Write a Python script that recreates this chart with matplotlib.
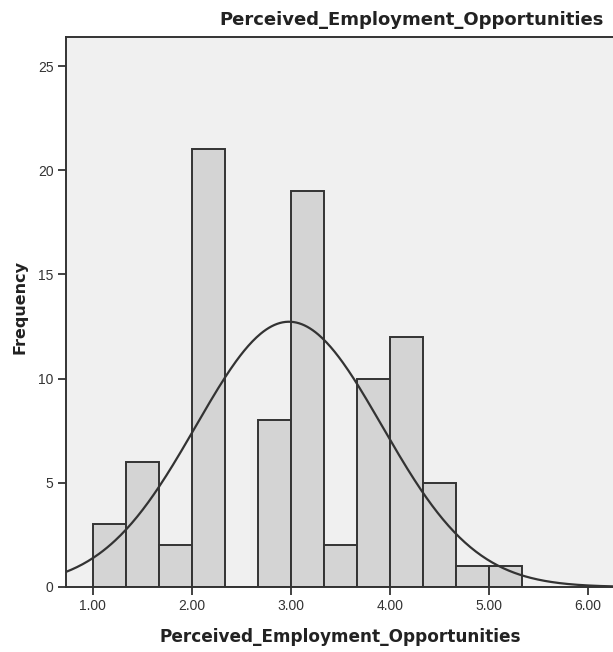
import numpy as np
import matplotlib
matplotlib.use('Agg')
import matplotlib.pyplot as plt

plt.rcParams['font.family'] = ['Liberation Sans', 'DejaVu Sans']

# Histogram bins (width 1/3) and frequencies
bin_edges = [1.0, 4/3, 5/3, 2.0, 7/3, 8/3, 3.0, 10/3, 11/3, 4.0, 13/3, 14/3, 5.0, 16/3]
counts = [3, 6, 2, 21, 0, 8, 19, 2, 10, 12, 5, 1, 1]

# Normal curve parameters
mean = 2.98
std_dev = 0.94
n_total = sum(counts)
bin_width = 1/3

x_ticks = [1, 2, 3, 4, 5, 6]
x_tick_labels = ['1.00', '2.00', '3.00', '4.00', '5.00', '6.00']
y_ticks = [0, 5, 10, 15, 20, 25]

var_name = 'Perceived_Employment_Opportunities'

fig = plt.figure(figsize=(6.13, 6.52), dpi=100)
ax = fig.add_axes([0.1077, 0.0997, 0.8923, 0.8436])
ax.set_facecolor('#f0f0f0')

lefts = bin_edges[:-1]
widths = np.diff(bin_edges)
ax.bar(lefts, counts, width=widths, align='edge', color='#d4d4d4',
       edgecolor='#333333', linewidth=1.4)

xs = np.linspace(0.73, 6.25, 400)
pdf = np.exp(-0.5 * ((xs - mean) / std_dev) ** 2) / (std_dev * np.sqrt(2 * np.pi))
ax.plot(xs, pdf * n_total * bin_width, color='#333333', linewidth=1.6)

ax.set_xlim(0.73, 6.25)
ax.set_ylim(0, 26.4)
ax.set_xticks(x_ticks)
ax.set_xticklabels(x_tick_labels)
ax.set_yticks(y_ticks)
ax.tick_params(axis='both', direction='out', length=6, width=1.3,
               colors='#333333', labelsize=10, pad=3)

for side in ['left', 'bottom', 'top']:
    ax.spines[side].set_color('#333333')
    ax.spines[side].set_linewidth(1.4)
ax.spines['right'].set_visible(False)

# Axis titles and chart title
bold = dict(family='DejaVu Sans', fontweight='bold', color='#222222')
fig.text(340 / 613, 1 - 637 / 652, var_name, ha='center', va='center',
         fontsize=12.2, **bold)
fig.text(20 / 613, 1 - 307 / 652, 'Frequency', ha='center', va='center',
         rotation=90, fontsize=11.5, **bold)
fig.text(604 / 613, 1 - 20 / 652, var_name, ha='right', va='center',
         fontsize=13, **bold)

fig.savefig('out.png', dpi=100, facecolor='white')
